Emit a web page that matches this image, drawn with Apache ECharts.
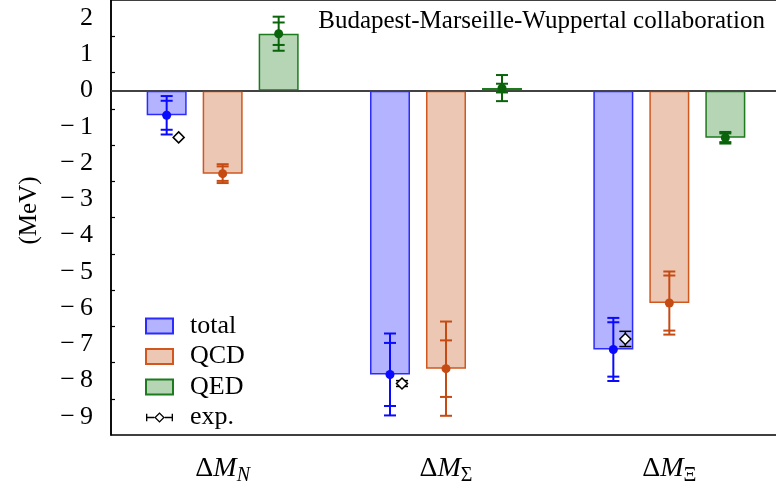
<!DOCTYPE html>
<html>
<head>
<meta charset="utf-8">
<script src="https://cdn.jsdelivr.net/npm/echarts@6/dist/echarts.min.js"></script>
<style>html,body{margin:0;padding:0;background:#fff;overflow:hidden}#c{width:784px;height:487px}</style>
</head>
<body>
<div id="c"></div>
<script>
// ---- data ----
const categories = ['ΔM_N', 'ΔM_Σ', 'ΔM_Ξ'];
const totalVal  = [-0.68, -7.83, -7.14];
const totalStat = [0.40, 0.87, 0.75];
const totalErr  = [0.53, 1.13, 0.87];
const qcdVal  = [-2.29, -7.67, -5.86];
const qcdStat = [0.20, 0.78, 0.76];
const qcdErr  = [0.26, 1.30, 0.87];
const qedVal  = [1.57, 0.07, -1.30];
const qedStat = [0.31, 0.12, 0.12];
const qedErr  = [0.47, 0.36, 0.16];
const expVal = [-1.29, -8.08, -6.85];
const expErr = [0.00, 0.08, 0.21];
const yTicks = [-9, -8, -7, -6, -5, -4, -3, -2, -1, 0, 1, 2];
const yMin = -9.5, yMax = 2.5;

// ---- layout / style ----
const FONT = 'Liberation Serif';
const BAR_W = 40, BAR_GAP = 16, CAP = 12, EXP_SHIFT = 12;
const styles = [
  { name: 'total', fill: '#b3b3ff', border: '#2b2bff', err: '#0a0aff' },
  { name: 'QCD',   fill: '#ecc7b3', border: '#d0581e', err: '#c54b12' },
  { name: 'QED',   fill: '#b5d5b5', border: '#1d7a1d', err: '#0a640a' }
];
const vals  = [totalVal, qcdVal, qedVal];
const stats = [totalStat, qcdStat, qedStat];
const errs  = [totalErr, qcdErr, qedErr];

function fmtY(v) { return v < 0 ? '\u2212\u2009' + Math.abs(v) : String(v); }
function fmtX(s) {
  const p = s.split('_');
  const sub = /[A-Za-z]/.test(p[1]) ? 'si' : 'su';
  return '{d|Δ}{m|' + p[0].slice(1) + '}{' + sub + '|' + p[1] + '}';
}

function errRender(slot, color) {
  return function (params, api) {
    const i = api.value(0), v = api.value(1), a = api.value(2), b = api.value(3);
    const c = api.coord([i, v]);
    const x = c[0] + (slot - 1) * (BAR_W + BAR_GAP);
    const Y = t => api.coord([i, t])[1];
    const ls = { stroke: color, lineWidth: 2 };
    const ch = [{ type: 'line', shape: { x1: x, y1: Y(v - b), x2: x, y2: Y(v + b) }, style: ls }];
    [v - a, v + a, v - b, v + b].forEach(t => {
      ch.push({ type: 'line', shape: { x1: x - CAP / 2, y1: Y(t), x2: x + CAP / 2, y2: Y(t) }, style: ls });
    });
    ch.push({ type: 'circle', shape: { cx: x, cy: c[1], r: 4.5 }, style: { fill: color } });
    return { type: 'group', children: ch };
  };
}

function expRender(params, api) {
  const i = api.value(0), v = api.value(1), e = api.value(2);
  const c = api.coord([i, v]);
  const x = c[0] - (BAR_W + BAR_GAP) + EXP_SHIFT, y = c[1];
  const Y = t => api.coord([i, t])[1];
  const ls = { stroke: '#000', lineWidth: 1.5 };
  const ch = [];
  if (e > 0) {
    ch.push({ type: 'line', shape: { x1: x, y1: Y(v - e), x2: x, y2: Y(v + e) }, style: ls });
    [v - e, v + e].forEach(t => ch.push({ type: 'line', shape: { x1: x - CAP / 2, y1: Y(t), x2: x + CAP / 2, y2: Y(t) }, style: ls }));
  }
  const h = 5.5;
  ch.push({ type: 'polygon', shape: { points: [[x, y - h], [x + h, y], [x, y + h], [x - h, y]] }, style: { fill: '#fff', stroke: '#000', lineWidth: 1.5 } });
  return { type: 'group', children: ch };
}

const series = [];
styles.forEach((st, s) => {
  const bar = {
    name: st.name, type: 'bar', barWidth: BAR_W, barGap: (BAR_GAP / BAR_W * 100) + '%',
    data: vals[s],
    itemStyle: { color: st.fill, borderColor: st.border, borderWidth: 1.5 },
    emphasis: { disabled: true }, z: 2
  };
  if (s === 0) {
    bar.markLine = {
      silent: true, symbol: 'none', label: { show: false },
      lineStyle: { color: '#444', width: 1.5, type: 'solid' },
      data: [{ yAxis: 0 }], z: 5
    };
  }
  series.push(bar);
});
styles.forEach((st, s) => {
  series.push({
    name: st.name, type: 'custom', renderItem: errRender(s, st.err),
    data: vals[s].map((v, i) => [i, v, stats[s][i], errs[s][i]]),
    encode: { x: 0, y: 1 }, itemStyle: { color: st.fill }, z: 6, silent: true
  });
});
series.push({
  name: 'exp.', type: 'custom', renderItem: expRender,
  data: expVal.map((v, i) => [i, v, expErr[i]]),
  encode: { x: 0, y: 1 }, itemStyle: { color: '#000' }, z: 7, silent: true
});

const expIcon = 'path://M0 2H1.4V10H0Z M1.4 5.3H8.6V6.7H1.4Z M26.6 2H28V10H26.6Z M19.4 5.3H26.6V6.7H19.4Z ' +
  'M14 0.5L19.5 6L14 11.5L8.5 6Z M14 2.4L10.4 6L14 9.6L17.6 6Z';

const chart = echarts.init(document.getElementById('c'), null, { renderer: 'canvas' });
chart.setOption({
  animation: false,
  backgroundColor: '#fff',
  textStyle: { fontFamily: FONT },
  title: {
    text: 'Budapest-Marseille-Wuppertal collaboration', right: 14, top: 4,
    textStyle: { fontFamily: FONT, fontSize: 25, fontWeight: 'normal', color: '#000' }
  },
  legend: {
    orient: 'vertical', left: 140, top: 308, itemWidth: 27, itemHeight: 15, itemGap: 4.5,
    selectedMode: false,
    textStyle: { fontFamily: FONT, fontSize: 26, color: '#000', lineHeight: 24, padding: [0, 0, 0, 12] },
    data: [
      { name: 'total', icon: 'rect' },
      { name: 'QCD', icon: 'rect' },
      { name: 'QED', icon: 'rect' },
      { name: 'exp.', icon: expIcon, itemStyle: { color: '#000', borderWidth: 0 } }
    ]
  },
  grid: { left: 111, top: 0, bottom: 52, right: 3, show: true, borderColor: '#000', borderWidth: 1.5, containLabel: false },
  xAxis: {
    type: 'category', data: categories, boundaryGap: true,
    axisLine: { lineStyle: { color: '#000', width: 1.5 } },
    axisTick: { inside: true, alignWithLabel: true, length: 6, lineStyle: { color: '#000', width: 1.2 } },
    axisLabel: {
      margin: 17, formatter: fmtX, color: '#000',
      rich: {
        d: { fontFamily: FONT, fontSize: 28, lineHeight: 34, color: '#000' },
        m: { fontFamily: FONT, fontSize: 28, lineHeight: 34, fontStyle: 'italic', color: '#000' },
        si: { fontFamily: FONT, fontSize: 20, lineHeight: 14, fontStyle: 'italic', verticalAlign: 'bottom', color: '#000' },
        su: { fontFamily: FONT, fontSize: 20, lineHeight: 14, verticalAlign: 'bottom', color: '#000' }
      }
    },
    splitLine: { show: false }
  },
  yAxis: [
    {
      type: 'value', min: yMin, max: yMax,
      name: '(MeV)', nameLocation: 'middle', nameGap: 69, nameRotate: 90,
      nameTextStyle: { fontFamily: FONT, fontSize: 25, color: '#000', padding: [0, 0, 0, 14] },
      axisLine: { show: true, lineStyle: { color: '#000', width: 1.5 } },
      axisTick: { inside: true, length: 8, customValues: yTicks, lineStyle: { color: '#000', width: 1.2 } },
      axisLabel: { customValues: yTicks, formatter: fmtY, margin: 18, fontFamily: FONT, fontSize: 26, color: '#000' },
      splitLine: { show: false }
    },
    {
      type: 'value', min: yMin, max: yMax, position: 'left', offset: 0,
      axisLine: { show: false },
      axisTick: { show: true, inside: true, length: 4, customValues: yTicks.slice(0, -1).map(t => t + 0.5), lineStyle: { color: '#000', width: 1.2 } },
      axisLabel: { show: false },
      splitLine: { show: false }
    }
  ],
  series: series
});
</script>
</body>
</html>
